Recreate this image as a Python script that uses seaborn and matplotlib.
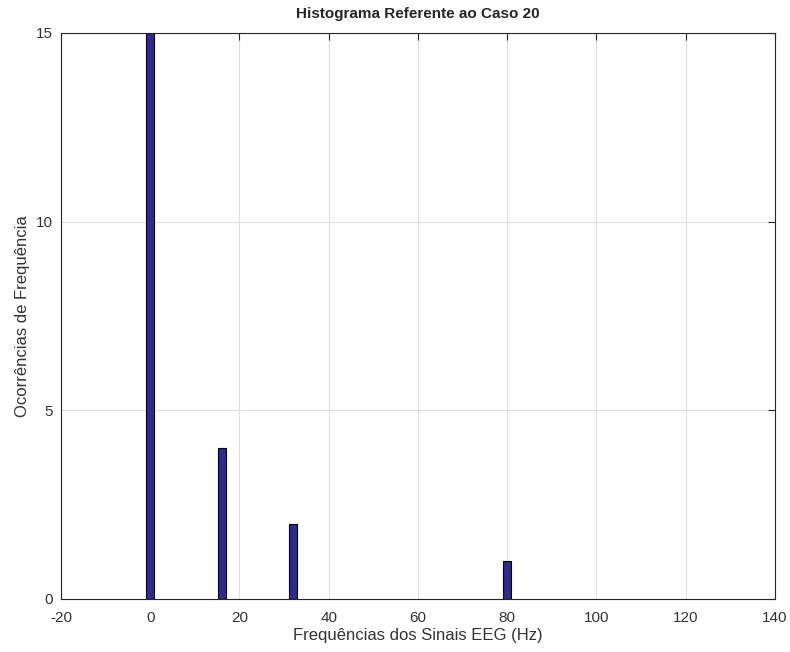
import matplotlib
matplotlib.use("Agg")
import matplotlib.pyplot as plt
import seaborn as sns
import pandas as pd

freqs = [0, 16, 32, 80]
counts = [15, 4, 2, 1]
xticks = [-20, 0, 20, 40, 60, 80, 100, 120, 140]
yticks = [0, 5, 10, 15]

sns.set_style("white")
plt.rcParams['font.family'] = ['Liberation Sans', 'DejaVu Sans']

df = pd.DataFrame({"freq": freqs, "count": counts})

fig = plt.figure(figsize=(7.9, 6.52), dpi=100)
ax = fig.add_axes([0.0772, 0.0813, 0.9038, 0.8681])
ax.set_axisbelow(True)
bar_width_units = 1.75
sns.barplot(data=df, x="freq", y="count", native_scale=True, ax=ax,
            width=bar_width_units / 16.0, color="#302A8C", saturation=1,
            edgecolor="black", linewidth=0.8, errorbar=None)

ax.set_xlim(-20, 140)
ax.set_ylim(0, 15)
ax.set_xticks(xticks)
ax.set_xticklabels([str(t) for t in xticks])
ax.set_yticks(yticks)
ax.set_yticklabels([str(t) for t in yticks])
ax.grid(True, color="#e0e0e0", linewidth=0.8)
for s in ax.spines.values():
    s.set_visible(True)
    s.set_color("#262626")
    s.set_linewidth(0.8)
ax.tick_params(direction="in", length=5, width=0.8, color="#262626",
               top=True, right=True, labelsize=11, labelcolor="#333333")
ax.tick_params(axis="x", pad=9)
ax.tick_params(axis="y", pad=6)
ax.set_title("Histograma Referente ao Caso 20", fontsize=11, fontweight="bold", pad=11)
ax.set_xlabel("Frequências dos Sinais EEG (Hz)", fontsize=12, color="#333333", labelpad=2)
ax.set_ylabel("Ocorrências de Frequência", fontsize=12, color="#333333", labelpad=4)

fig.savefig("out.png", dpi=100)
